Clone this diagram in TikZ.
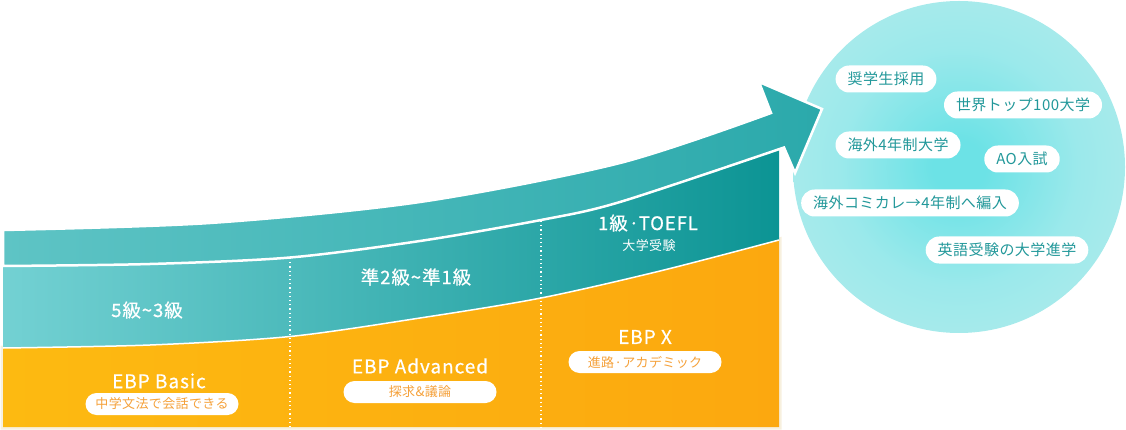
\documentclass[tikz,border=0pt]{standalone}
\usepackage{fontspec}
\setmainfont{Noto Sans CJK JP}[LetterSpace=3]
\newfontfamily\labelfont{Noto Sans CJK JP}[LetterSpace=5, FakeBold=0.6]

\definecolor{orangel}{RGB}{253,186,17}
\definecolor{oranger}{RGB}{252,168,15}
\definecolor{cream}{RGB}{247,240,222}
\definecolor{midl}{RGB}{115,209,211}
\definecolor{midr}{RGB}{12,148,148}
\definecolor{arrl}{RGB}{94,196,197}
\definecolor{arrr}{RGB}{43,169,171}
\definecolor{bubblein}{RGB}{108,226,230}
\definecolor{bubblemid}{RGB}{155,233,235}
\definecolor{bubbleout}{RGB}{180,236,236}
\definecolor{pilltext}{RGB}{245,161,58}
\definecolor{goaltext}{RGB}{34,152,154}

\pgfdeclareradialshading{bubble}{\pgfpoint{0bp}{0bp}}{color(0bp)=(bubblein); color(4bp)=(bubblein); color(18bp)=(bubblemid); color(34bp)=(bubbleout); color(50bp)=(bubbleout)}

\tikzset{
  bandlabel/.style={text=white, font=\labelfont\fontsize{18.5}{20}\selectfont},
  bandsub/.style={text=white, font=\fontsize{13}{15}\selectfont},
  courselabel/.style={text=white, font=\labelfont\fontsize{19}{21}\selectfont},
  coursepill/.style={fill=white, text=pilltext, rounded corners=11pt, minimum width=153pt, minimum height=22pt, inner sep=0pt, font=\fontsize{13}{15}\selectfont},
  goalpill/.style={fill=white, text=goaltext, rounded corners=13.5pt, minimum height=27pt, inner xsep=12pt, inner ysep=0pt, font=\fontsize{15}{17}\selectfont},
  divider/.style={white, line width=1.2pt, dash pattern=on 1.2pt off 3pt}
}

\begin{document}
\begin{tikzpicture}[x=1pt, y=-1pt]
\useasboundingbox (0,0) rectangle (1126,430);

%Goal Circle Drawing

\shade [shading=bubble] (959,167) circle (166pt);

%Course Band Drawing

\filldraw [cream, line width=5pt] plot [smooth] coordinates {(3,348) (150,345) (290,336.5) (420,318) (541,298) (660,271) (779,240)} -- (779,427) -- (3,427) -- cycle;
\shade [left color=orangel, right color=oranger] plot [smooth] coordinates {(3,348) (150,345) (290,336.5) (420,318) (541,298) (660,271) (779,240)} -- (779,427) -- (3,427) -- cycle;

%Grade Band Drawing

\shade [left color=midl, right color=midr] plot [smooth] coordinates {(3,266) (150,264) (290,257.5) (420,241) (541,220) (620,202) (779,148.5)} -- plot [smooth] coordinates {(779,240) (660,271) (541,298) (420,318) (290,336.5) (150,345) (3,348)} -- cycle;
\draw [white, line width=1.5pt] plot [smooth] coordinates {(3,348) (150,345) (290,336.5) (420,318) (541,298) (660,271) (779,240)};

%Arrow Drawing

\shadedraw [left color=arrl, right color=arrr, draw=white, line width=2.5pt, line join=miter] plot [smooth] coordinates {(3,230) (210,223) (420,202) (620,163) (771,113)} -- (759,82) -- (822,109) -- (795,173) -- (784,147.5) -- plot [smooth] coordinates {(784,147.5) (620,202) (541,220) (420,241) (290,257.5) (150,264) (3,266)} -- cycle;

%Dividers

\coordinate (divAtop) at (290,258);
\coordinate (divAbot) at (290,427);
\coordinate (divBtop) at (541,221);
\coordinate (divBbot) at (541,427);
\draw [divider] (divAtop) -- (divAbot);
\draw [divider] (divBtop) -- (divBbot);

%Grade labels

\node [bandlabel] (gradeA) at (147,310) {5級\textasciitilde{}3級};
\node [bandlabel] (gradeB) at (416,277) {準2級\textasciitilde{}準1級};
\node [bandlabel] (gradeC) at (648,223) {1級·TOEFL};
\node [bandsub] (gradeCsub) at (649,246) {大学受験};

%Course labels

\node [courselabel] (courseA) at (159,381) {EBP Basic};
\node [coursepill] (courseApill) at (162,404) {中学文法で会話できる};
\node [courselabel] (courseB) at (420,366) {EBP Advanced};
\node [coursepill] (courseBpill) at (420,392) {探求\&議論};
\node [courselabel] (courseC) at (645,337) {EBP X};
\node [coursepill] (courseCpill) at (645,362) {進路·アカデミック};

%Goal labels

\node [goalpill] (goalA) at (886,79) {奨学生採用};
\node [goalpill] (goalB) at (1023,105) {世界トップ100大学};
\node [goalpill] (goalC) at (898,145) {海外4年制大学};
\node [goalpill] (goalD) at (1022,159) {AO入試};
\node [goalpill] (goalE) at (910,203) {海外コミカレ→4年制へ編入};
\node [goalpill] (goalF) at (1007,250) {英語受験の大学進学};

\end{tikzpicture}
\end{document}
